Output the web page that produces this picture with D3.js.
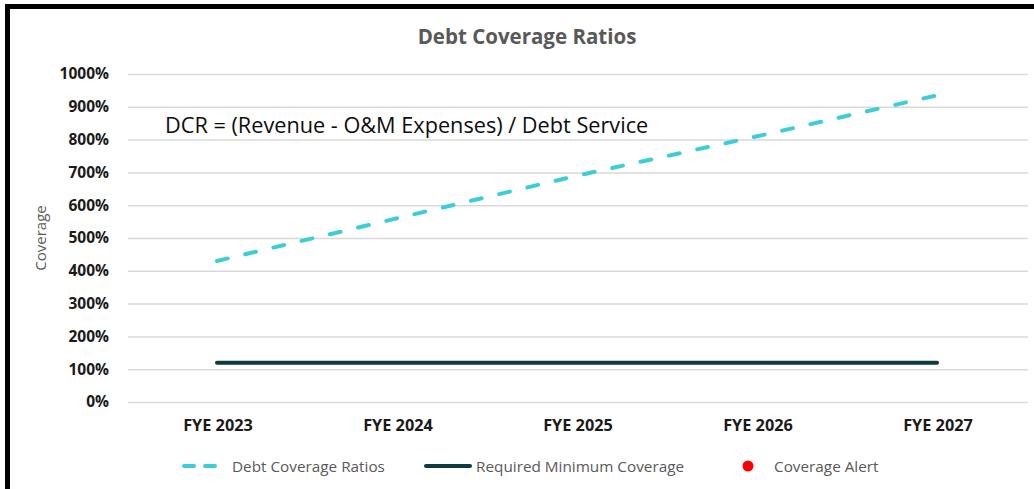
<!DOCTYPE html>
<html>
<head>
<meta charset="utf-8">
<script src="https://cdn.jsdelivr.net/npm/d3@7"></script>
<style>
  body { margin: 0; background: #fff; }
  svg { display: block; font-family: "Open Sans", Lato, sans-serif; }
</style>
</head>
<body>
<svg width="1034" height="489"></svg>
<script>
const categories = ['FYE 2023', 'FYE 2024', 'FYE 2025', 'FYE 2026', 'FYE 2027'];
const dcrValues = [430, 560, 690, 810, 935];
const minCoverage = [120, 120, 120, 120, 120];
const yTicks = [0, 100, 200, 300, 400, 500, 600, 700, 800, 900, 1000];

const svg = d3.select('svg');
const width = +svg.attr('width');
const height = +svg.attr('height');

const margin = {top: 74, right: 6, bottom: 87, left: 128};
const innerWidth = 900;
const innerHeight = height - margin.top - margin.bottom;

svg.append('rect').attr('width', width).attr('height', height).attr('fill', '#fff');

// frame (only top and left edges are visible in the crop)
svg.append('path')
  .attr('d', `M7.5,${height + 10} L7.5,6.5 L${width + 10},6.5`)
  .attr('fill', 'none').attr('stroke', '#000').attr('stroke-width', 5);

const xScale = d3.scaleBand()
  .domain(categories)
  .range([0, innerWidth]);

const yScale = d3.scaleLinear()
  .domain([0, 1000])
  .range([innerHeight, 0]);

const g = svg.append('g')
  .attr('transform', `translate(${margin.left}, ${margin.top})`);

// gridlines
g.append('g')
  .call(d3.axisLeft(yScale).tickValues(yTicks).tickSize(-innerWidth).tickFormat(''))
  .call(a => a.select('.domain').remove())
  .call(a => a.selectAll('text').remove())
  .call(a => a.selectAll('line').attr('stroke', '#d9d9d9').attr('stroke-width', 1.5));

// y axis labels
g.append('g')
  .call(d3.axisLeft(yScale).tickValues(yTicks).tickSize(0).tickPadding(19).tickFormat(d => d + '%'))
  .attr('font-family', '"Open Sans", sans-serif')
  .attr('font-size', 15.5)
  .call(a => a.select('.domain').remove())
  .call(a => a.selectAll('line').remove())
  .call(a => a.selectAll('text')
    .attr('font-weight', 'bold').attr('fill', '#1a1a1a'));

// x axis labels
g.append('g')
  .attr('transform', `translate(0, ${innerHeight})`)
  .call(d3.axisBottom(xScale).tickSize(0).tickPadding(17))
  .attr('font-family', '"Open Sans", sans-serif')
  .attr('font-size', 16.3)
  .call(a => a.select('.domain').remove())
  .call(a => a.selectAll('line').remove())
  .call(a => a.selectAll('text')
    .attr('font-weight', 'bold').attr('fill', '#1a1a1a'));

const xc = d => xScale(d) + xScale.bandwidth() / 2 - 1;

const line = d3.line()
  .x((d, i) => xc(categories[i]))
  .y(d => yScale(d));

g.append('path')
  .datum(minCoverage)
  .attr('d', line)
  .attr('fill', 'none')
  .attr('stroke', '#0e3b3d')
  .attr('stroke-width', 4)
  .attr('stroke-linecap', 'round');

g.append('path')
  .datum(dcrValues)
  .attr('d', line)
  .attr('fill', 'none')
  .attr('stroke', '#3ccdd6')
  .attr('stroke-width', 4)
  .attr('stroke-dasharray', '11,18')
  .attr('stroke-linecap', 'round');

// title
svg.append('text')
  .attr('x', 527).attr('y', 44)
  .attr('text-anchor', 'middle')
  .attr('font-size', 20.5).attr('font-weight', 'bold').attr('fill', '#595959')
  .text('Debt Coverage Ratios');

// annotation
svg.append('text')
  .attr('x', 165).attr('y', 133)
  .attr('font-size', 21.7).attr('fill', '#0d0d0d')
  .text('DCR = (Revenue - O&M Expenses) / Debt Service');

// y axis title
svg.append('text')
  .attr('transform', `translate(46, ${margin.top + innerHeight / 2}) rotate(-90)`)
  .attr('text-anchor', 'middle')
  .attr('font-size', 15).attr('fill', '#595959')
  .text('Coverage');

// legend
const legend = svg.append('g').attr('transform', 'translate(0, 466)');
legend.append('line')
  .attr('x1', 184).attr('x2', 226).attr('y1', 0).attr('y2', 0)
  .attr('stroke', '#3ccdd6').attr('stroke-width', 4)
  .attr('stroke-dasharray', '10,11').attr('stroke-linecap', 'round');
legend.append('text').attr('x', 232).attr('y', 5.5)
  .attr('font-size', 15.3).attr('fill', '#595959').text('Debt Coverage Ratios');

legend.append('line')
  .attr('x1', 426).attr('x2', 470).attr('y1', 0).attr('y2', 0)
  .attr('stroke', '#0e3b3d').attr('stroke-width', 4).attr('stroke-linecap', 'round');
legend.append('text').attr('x', 476).attr('y', 5.5)
  .attr('font-size', 15.3).attr('fill', '#595959').text('Required Minimum Coverage');

legend.append('circle').attr('cx', 748).attr('cy', 0).attr('r', 5.5).attr('fill', '#ff0000');
legend.append('text').attr('x', 774).attr('y', 5.5)
  .attr('font-size', 15.3).attr('fill', '#595959').text('Coverage Alert');
</script>
</body>
</html>
